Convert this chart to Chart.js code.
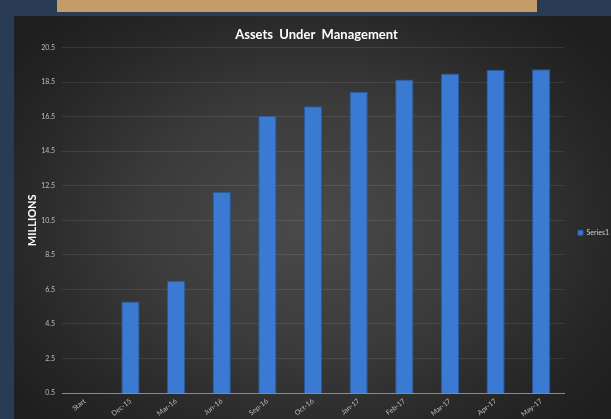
<!DOCTYPE html>
<html>
<head>
<meta charset="utf-8">
<script src="https://cdn.jsdelivr.net/npm/chart.js@4/dist/chart.umd.min.js"></script>
<style>
  html, body { margin: 0; padding: 0; width: 611px; height: 419px; overflow: hidden; background: #2a3c53; }
  #topbar { position: absolute; left: 57px; top: 0; width: 480px; height: 12px; background: #c49c67; }
  #panel {
    position: absolute; left: 14px; top: 16px; width: 605px; height: 403px;
    background: radial-gradient(ellipse 62% 68% at 49% 52%, #4a4a4a 0%, #3b3b3b 45%, #272727 80%, #1f1f1f 100%);
  }
</style>
</head>
<body>
<div id="topbar"></div>
<div id="panel"><canvas id="chart-aum" width="605" height="403"></canvas></div>
<script>
const labels = ["Start", "Dec-15", "Mar-16", "Jun-16", "Sep-16", "Oct-16", "Jan-17", "Feb-17", "Mar-17", "Apr-17", "May-17"];
const series1 = [0.5, 5.8, 7.0, 12.15, 16.55, 17.1, 17.95, 18.65, 19.0, 19.2, 19.25];
const yTicks = { min: 0.5, max: 20.5, step: 2 };

const aum = document.getElementById("chart-aum");

new Chart(aum, {
  type: "bar",
  data: {
    labels: labels,
    datasets: [
      {
        label: "Series1",
        data: series1,
        backgroundColor: "#3a7ad3",
        borderColor: "#2a5a9e",
        borderWidth: 1,
        barPercentage: 0.4,
        categoryPercentage: 1,
      },
    ],
  },
  options: {
    responsive: false,
    animation: false,
    layout: { padding: 0 },
    scales: {
      x: {
        grid: { display: false, drawTicks: false },
        border: { color: "#8a8a8a", width: 1 },
        ticks: {
          color: "#bdbdbd",
          font: { family: "Lato", size: 7 },
          minRotation: 38,
          maxRotation: 38,
          padding: 4,
        },
        afterFit: s => { s.height = 26; },
      },
      y: {
        min: yTicks.min,
        max: yTicks.max,
        grid: { color: "rgba(255,255,255,0.09)", drawTicks: false },
        border: { display: false },
        ticks: {
          stepSize: yTicks.step,
          color: "#bdbdbd",
          font: { family: "Lato", size: 7 },
          padding: 7,
        },
        title: {
          display: true,
          text: "MILLIONS",
          color: "#ffffff",
          font: { family: "Lato", size: 11, weight: "bold" },
          padding: { top: 12, bottom: 0 },
        },
        afterFit: s => { s.width = 48; },
      },
    },
    plugins: {
      title: {
        display: true,
        text: "Assets  Under  Management",
        color: "#ffffff",
        font: { family: "Lato", size: 13, weight: "bold" },
        padding: { top: 11, bottom: 5 },
      },
      legend: {
        position: "right",
        title: { display: true, text: "", font: { size: 7 }, padding: 11 },
        labels: {
          color: "#d0d0d0",
          font: { family: "Lato", size: 7 },
          boxWidth: 5,
          boxHeight: 5,
          padding: 14,
        },
      },
      tooltip: { enabled: false },
    },
  },
});
</script>
</body>
</html>
